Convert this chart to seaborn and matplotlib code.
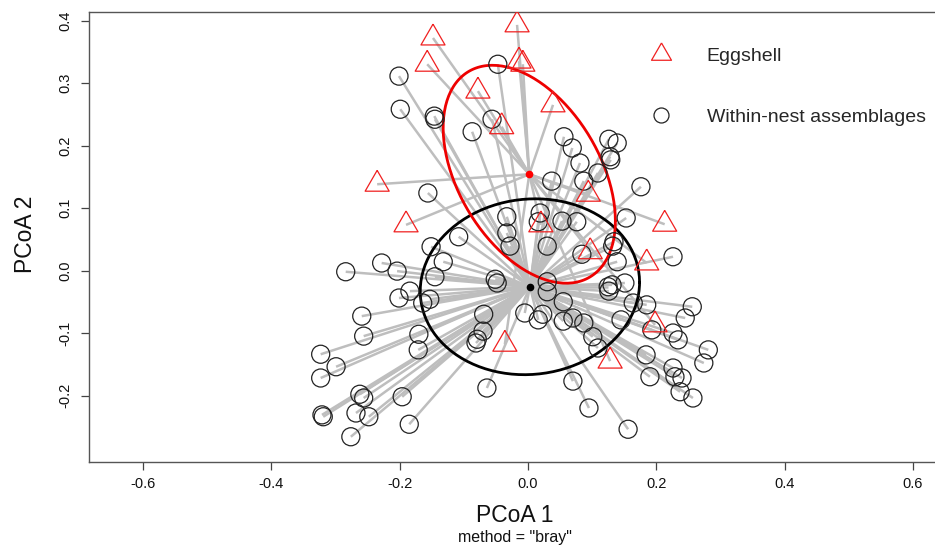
import numpy as np
import pandas as pd
import matplotlib
matplotlib.use("Agg")
import matplotlib.pyplot as plt
import seaborn as sns
from matplotlib.lines import Line2D

# PCoA scores (PCoA 1, PCoA 2)
egg_x = [-0.148, -0.157, -0.017, -0.014, -0.008, -0.078, 0.039, -0.041, -0.235,
         -0.190, 0.094, 0.020, 0.213, 0.097, 0.185, 0.198, 0.128, -0.036]
egg_y = [0.372, 0.330, 0.393, 0.335, 0.330, 0.287, 0.265, 0.230, 0.138,
         0.073, 0.122, 0.073, 0.074, 0.030, 0.012, -0.087, -0.145, -0.118]

nest_x = [-0.201, -0.199, -0.146, -0.145, -0.056, -0.087, -0.047, -0.156, 0.056, 0.069,
          0.081, 0.126, 0.139, 0.128, 0.129, 0.109, 0.087, 0.037, 0.176, 0.153,
          -0.033, 0.019, 0.016, 0.053, 0.076, -0.033, -0.028, 0.030, 0.084, 0.134,
          0.132, 0.139, 0.226, -0.108, -0.151, -0.132, -0.284, -0.228, -0.204, -0.145,
          -0.184, -0.201, -0.153, -0.164, -0.051, -0.048, -0.259, -0.256, -0.170, -0.171,
          -0.323, -0.299, -0.323, -0.069, -0.070, -0.079, -0.081, -0.262, -0.256, -0.196,
          -0.321, -0.319, -0.268, -0.248, -0.185, -0.276, -0.064, 0.030, 0.030, 0.055,
          -0.005, 0.016, 0.023, 0.055, 0.070, 0.087, 0.101, 0.109, 0.125, 0.131,
          0.151, 0.126, 0.164, 0.185, 0.145, 0.193, 0.256, 0.245, 0.226, 0.234,
          0.281, 0.274, 0.184, 0.190, 0.226, 0.229, 0.240, 0.237, 0.257, 0.070,
          0.095, 0.156]
nest_y = [0.311, 0.258, 0.247, 0.242, 0.242, 0.222, 0.330, 0.124, 0.214, 0.196,
          0.172, 0.210, 0.204, 0.182, 0.177, 0.156, 0.143, 0.143, 0.134, 0.084,
          0.086, 0.092, 0.078, 0.079, 0.078, 0.060, 0.039, 0.039, 0.026, 0.046,
          0.039, 0.014, 0.022, 0.054, 0.038, 0.014, -0.002, 0.012, -0.001, -0.010,
          -0.033, -0.044, -0.046, -0.052, -0.014, -0.020, -0.073, -0.105, -0.102, -0.127,
          -0.134, -0.154, -0.172, -0.070, -0.097, -0.110, -0.116, -0.198, -0.204, -0.202,
          -0.231, -0.234, -0.228, -0.234, -0.246, -0.266, -0.188, -0.018, -0.034, -0.050,
          -0.068, -0.079, -0.070, -0.081, -0.076, -0.084, -0.106, -0.124, -0.026, -0.023,
          -0.020, -0.033, -0.052, -0.055, -0.079, -0.095, -0.058, -0.076, -0.100, -0.111,
          -0.127, -0.148, -0.135, -0.170, -0.156, -0.170, -0.172, -0.194, -0.204, -0.177,
          -0.220, -0.254]

# group centroids and dispersion ellipses (centre, covariance)
egg_centroid = [0.002, 0.154]
nest_centroid = [0.003, -0.026]
egg_cov = [[0.0180, -0.0100], [-0.0100, 0.0304]]
nest_cov = [[0.0292, 0.0012], [0.0012, 0.0198]]

x_ticks = [-0.6, -0.4, -0.2, 0.0, 0.2, 0.4, 0.6]
y_ticks = [-0.2, -0.1, 0.0, 0.1, 0.2, 0.3, 0.4]

sns.set_style("white")
plt.rcParams['font.family'] = ['Liberation Sans', 'DejaVu Sans']
plt.rcParams['axes.unicode_minus'] = False

fig = plt.figure(figsize=(9.35, 5.46), dpi=100)
ax = fig.add_axes([89 / 935, 84 / 546, 851 / 935, 450 / 546])

tri = [(0, 1), (-0.866, -0.5), (0.866, -0.5), (0, 1)]


def ellipse_xy(centre, cov, n=200):
    t = np.linspace(0, 2 * np.pi, n)
    L = np.linalg.cholesky(np.array(cov))
    pts = L @ np.vstack([np.cos(t), np.sin(t)])
    return centre[0] + pts[0], centre[1] + pts[1]


# segments from each sample to its group centroid
for px, py in zip(nest_x, nest_y):
    ax.plot([nest_centroid[0], px], [nest_centroid[1], py], color='#BEBEBE', lw=1.8,
            zorder=1, solid_capstyle='butt')
for px, py in zip(egg_x, egg_y):
    ax.plot([egg_centroid[0], px], [egg_centroid[1], py], color='#BEBEBE', lw=1.8,
            zorder=1, solid_capstyle='butt')

ex, ey = ellipse_xy(nest_centroid, nest_cov)
ax.plot(ex, ey, color='black', lw=2.0, zorder=2)
ex, ey = ellipse_xy(egg_centroid, egg_cov)
ax.plot(ex, ey, color='#EE0000', lw=2.0, zorder=2)

ax.plot(*nest_centroid, 'o', color='black', ms=4.5, zorder=3)
ax.plot(*egg_centroid, 'o', color='red', ms=4.5, zorder=3)

df_nest = pd.DataFrame({'PCoA1': nest_x, 'PCoA2': nest_y})
df_egg = pd.DataFrame({'PCoA1': egg_x, 'PCoA2': egg_y})
sns.scatterplot(data=df_nest, x='PCoA1', y='PCoA2', marker='o', s=169,
                facecolor='none', edgecolor='#222222', linewidth=0.9, ax=ax, zorder=4)
sns.scatterplot(data=df_egg, x='PCoA1', y='PCoA2', marker=tri, s=400,
                facecolor='none', edgecolor='#F02020', linewidth=0.9, ax=ax, zorder=5)

ax.set_xlim(-0.684, 0.642)
ax.set_ylim(-0.3064, 0.4136)
ax.set_xticks(x_ticks)
ax.set_xticklabels([f"{v:.1f}" for v in x_ticks])
ax.set_yticks(y_ticks)
ax.set_yticklabels([f"{v:.1f}" for v in y_ticks], rotation=90, va='center')
ax.tick_params(axis='both', direction='out', length=5.8, width=0.9, color='#444444',
               labelsize=10.5, labelcolor='#111111', bottom=True, left=True)
ax.tick_params(axis='x', pad=5)
ax.tick_params(axis='y', pad=6)
for sp in ax.spines.values():
    sp.set_visible(True)
    sp.set_color('#555555')
    sp.set_linewidth(1.0)
ax.set_xlabel("")
ax.set_ylabel("")

ax.text(0.5, -0.1333, "PCoA 1", transform=ax.transAxes, ha='center', va='baseline',
        fontsize=16.5, color='#111111')
ax.text(0.5, -0.1778, 'method = "bray"', transform=ax.transAxes, ha='center',
        va='baseline', fontsize=11.5, color='#111111')
ax.text(-0.0752, 0.5067, "PCoA 2", transform=ax.transAxes, ha='center', va='center',
        rotation=90, fontsize=16.5, color='#111111')

handles = [
    Line2D([], [], marker=tri, ls='none', ms=16.6, mfc='none', mec='#F02020', mew=0.9),
    Line2D([], [], marker='o', ls='none', ms=10.8, mfc='none', mec='#222222', mew=0.9),
]
fig.legend(handles, ["Eggshell", "Within-nest assemblages"], loc='upper left',
           bbox_to_anchor=(651 / 935, 1 - 47 / 546), frameon=False, fontsize=14,
           handlelength=1.0, handletextpad=1.87, labelspacing=2.23, borderpad=0,
           borderaxespad=0, numpoints=1)

fig.savefig("out.png", dpi=100)
